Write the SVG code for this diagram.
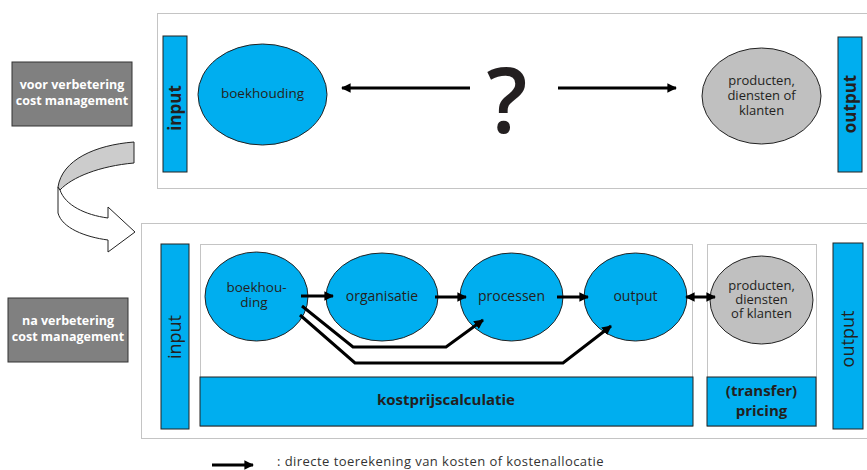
<svg xmlns="http://www.w3.org/2000/svg" width="867" height="470" viewBox="0 0 867 470">
<defs>
<marker id="ah" viewBox="0 0 10 10" refX="9" refY="5" markerWidth="3.2" markerHeight="3.2" orient="auto-start-reverse" markerUnits="strokeWidth">
<path d="M0,0 L10,5 L0,10 Z" fill="#000"/>
</marker>
<style>
.dot{fill:none;stroke:#888;stroke-width:1;stroke-dasharray:1 1}
.bar{fill:#00AEEF;stroke:#222;stroke-width:1}
.blue{fill:#00AEEF;stroke:#222;stroke-width:1}
.grey{fill:#C0C0C0;stroke:#222;stroke-width:1}
.t{font-family:"Open Sans","Noto Sans",sans-serif;fill:#231f20;text-anchor:middle}
.b{font-weight:bold}
.w{fill:#fff}
.ln{fill:none;stroke:#000;stroke-width:3}
.lnm{fill:none;stroke:#000;stroke-width:3;marker-end:url(#ah)}
</style>
</defs>
<rect width="867" height="470" fill="#fff"/>

<!-- frames -->
<rect class="dot" x="157.5" y="13.5" width="715" height="175"/>
<rect class="dot" x="141.5" y="223.5" width="730" height="215"/>
<rect class="dot" x="200.5" y="244.5" width="492" height="182"/>
<rect class="dot" x="707.5" y="244.5" width="109" height="182"/>

<!-- left labels -->
<g id="voor">
<rect x="12" y="62" width="120" height="64" fill="#808080" stroke="#333"/>
<text class="t b w" font-size="12.5"><tspan x="72" y="89">voor verbetering</tspan><tspan x="72" y="105">cost management</tspan></text>
</g>
<g id="na">
<rect x="8" y="298" width="120" height="64" fill="#808080" stroke="#333"/>
<text class="t b w" font-size="12.5"><tspan x="68" y="325">na verbetering</tspan><tspan x="68" y="341">cost management</tspan></text>
</g>

<!-- curved arrow -->
<g id="curved-arrow" stroke="#222" stroke-width="1" stroke-linejoin="round">
<path d="M58,187 L58,213 C62,228 85,237 108,240 L108,252 L135,232 L108,207 L108,218 C85,215 65,205 60,190 Z" fill="#fff"/>
<path d="M134,142 C95,145 62,160 58,187 L60,190 C72,177 100,166 134,163 Z" fill="#cccccc"/>
</g>

<!-- top row -->
<g id="input-top">
<rect class="bar" x="163" y="36" width="24" height="136"/>
<text class="t b" font-size="17" transform="translate(181,108) rotate(-90)">input</text>
</g>
<g id="boekhouding-top">
<ellipse class="blue" cx="262.5" cy="94.5" rx="64.5" ry="50.5"/>
<text class="t" font-size="13.5" x="262.5" y="98">boekhouding</text>
</g>
<g id="question">
<text class="t" font-size="90" font-weight="600" x="507" y="133">?</text>
</g>
<g id="producten-top">
<ellipse class="grey" cx="761.5" cy="96" rx="59.5" ry="48"/>
<text class="t" font-size="13"><tspan x="761.5" y="85">producten,</tspan><tspan x="761.5" y="100">diensten of</tspan><tspan x="761.5" y="115">klanten</tspan></text>
</g>
<g id="output-top">
<rect class="bar" x="838" y="37" width="24" height="135"/>
<text class="t b" font-size="17" transform="translate(856,104) rotate(-90)">output</text>
</g>

<!-- bottom row -->
<g id="input-bottom">
<rect class="bar" x="161" y="244" width="28" height="185"/>
<text class="t" font-size="18" transform="translate(181,337) rotate(-90)">input</text>
</g>
<g id="boekhouding">
<ellipse class="blue" cx="256.5" cy="296.5" rx="51.5" ry="44.5"/>
<text class="t" font-size="13.5"><tspan x="256.5" y="292">boekhou-</tspan><tspan x="254" y="307">ding</tspan></text>
</g>
<g id="organisatie">
<ellipse class="blue" cx="382" cy="297" rx="56" ry="44"/>
<text class="t" font-size="14" x="382" y="301">organisatie</text>
</g>
<g id="processen">
<ellipse class="blue" cx="511.5" cy="297" rx="51.5" ry="44"/>
<text class="t" font-size="14" x="511.5" y="301">processen</text>
</g>
<g id="output-node">
<ellipse class="blue" cx="635.5" cy="297" rx="51.5" ry="44"/>
<text class="t" font-size="14" x="635.5" y="301">output</text>
</g>
<g id="producten-bottom">
<ellipse class="grey" cx="761.5" cy="300" rx="51.5" ry="44"/>
<text class="t" font-size="13"><tspan x="761.5" y="290">producten,</tspan><tspan x="761.5" y="304">diensten</tspan><tspan x="761.5" y="318">of klanten</tspan></text>
</g>
<g id="kostprijscalculatie">
<rect class="bar" x="200" y="377" width="493" height="49"/>
<text class="t b" font-size="15" x="446" y="405">kostprijscalculatie</text>
</g>
<g id="transfer-pricing">
<rect class="bar" x="707" y="377" width="109" height="49"/>
<text class="t b" font-size="15"><tspan x="761.5" y="396">(transfer)</tspan><tspan x="761.5" y="416">pricing</tspan></text>
</g>
<g id="output-bottom">
<rect class="bar" x="833" y="243" width="30" height="186"/>
<text class="t" font-size="18" transform="translate(854,339) rotate(-90)">output</text>
</g>

<!-- connectors -->
<g id="connectors">
<line class="lnm" x1="470" y1="88" x2="342" y2="88"/>
<line class="lnm" x1="558" y1="88" x2="676" y2="88"/>
<line class="lnm" x1="301" y1="296" x2="333" y2="296"/>
<line class="lnm" x1="435" y1="297" x2="466" y2="297"/>
<line class="lnm" x1="557" y1="297" x2="588" y2="297"/>
<line class="ln" x1="686" y1="297" x2="715" y2="297" style="marker-start:url(#ah);marker-end:url(#ah)"/>
<polyline class="lnm" points="302,306 353,347 446,347 483,320"/>
<polyline class="lnm" points="300,315 355,363 563,363 611,326"/>
<line class="lnm" x1="212" y1="465" x2="253" y2="465"/>
</g>
<text x="277" y="466" font-family="Open Sans, Noto Sans, sans-serif" font-size="13" letter-spacing="0.45" fill="#333">: directe toerekening van kosten of kostenallocatie</text>
</svg>
